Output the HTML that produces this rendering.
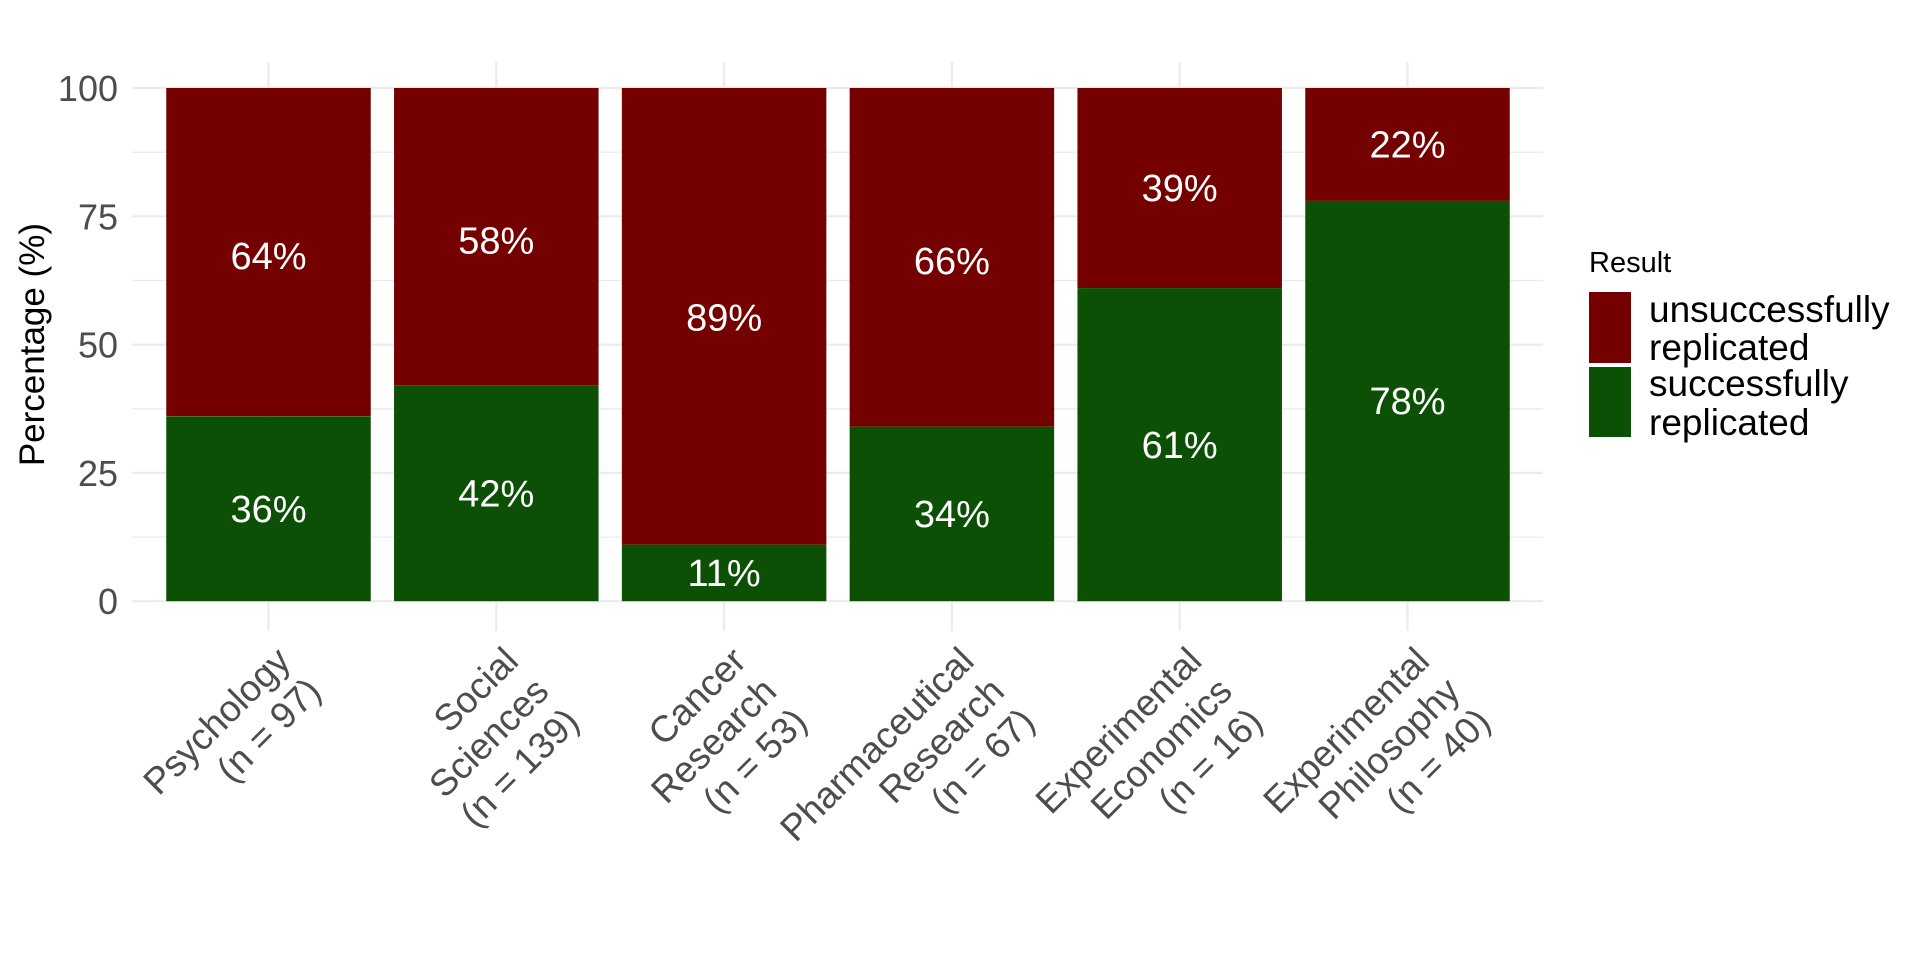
<!DOCTYPE html>
<html><head><meta charset="utf-8"><style>html,body{margin:0;padding:0;background:#fff}svg{display:block}</style></head>
<body>
<svg width="1920" height="960" xmlns="http://www.w3.org/2000/svg" font-family="Liberation Sans, Arial, sans-serif">
<rect width="1920" height="960" fill="#fff"/>
<g stroke="#ebebeb" stroke-width="1.3">
<line x1="132" x2="1543" y1="152.2" y2="152.2"/>
<line x1="132" x2="1543" y1="280.5" y2="280.5"/>
<line x1="132" x2="1543" y1="408.8" y2="408.8"/>
<line x1="132" x2="1543" y1="537.1" y2="537.1"/>
</g>
<g stroke="#ebebeb" stroke-width="2.2">
<line x1="132" x2="1543" y1="88" y2="88"/>
<line x1="132" x2="1543" y1="216.3" y2="216.3"/>
<line x1="132" x2="1543" y1="344.6" y2="344.6"/>
<line x1="132" x2="1543" y1="472.9" y2="472.9"/>
<line x1="132" x2="1543" y1="601.2" y2="601.2"/>
<line x1="268.5" x2="268.5" y1="62" y2="631"/>
<line x1="496.3" x2="496.3" y1="62" y2="631"/>
<line x1="724.1" x2="724.1" y1="62" y2="631"/>
<line x1="951.9" x2="951.9" y1="62" y2="631"/>
<line x1="1179.7" x2="1179.7" y1="62" y2="631"/>
<line x1="1407.5" x2="1407.5" y1="62" y2="631"/>
</g>
<g>
<rect x="166.25" width="204.5" y="88" height="328.2" fill="#750000"/>
<rect x="166.25" width="204.5" y="416.4" height="184.8" fill="#0b5004"/>
<rect x="394.05" width="204.5" y="88" height="297.6" fill="#750000"/>
<rect x="394.05" width="204.5" y="385.7" height="215.5" fill="#0b5004"/>
<rect x="621.85" width="204.5" y="88" height="456.7" fill="#750000"/>
<rect x="621.85" width="204.5" y="544.7" height="56.5" fill="#0b5004"/>
<rect x="849.65" width="204.5" y="88" height="338.7" fill="#750000"/>
<rect x="849.65" width="204.5" y="426.7" height="174.5" fill="#0b5004"/>
<rect x="1077.45" width="204.5" y="88" height="200.1" fill="#750000"/>
<rect x="1077.45" width="204.5" y="288.1" height="313.1" fill="#0b5004"/>
<rect x="1305.25" width="204.5" y="88" height="112.9" fill="#750000"/>
<rect x="1305.25" width="204.5" y="200.9" height="400.3" fill="#0b5004"/>
</g>
<g fill="#fff" font-size="38" text-anchor="middle">
<text x="268.5" y="269">64%</text><text x="268.5" y="522">36%</text>
<text x="496.3" y="253.6">58%</text><text x="496.3" y="506.5">42%</text>
<text x="724.1" y="330.4">89%</text><text x="724.1" y="586.1">11%</text>
<text x="951.9" y="274.1">66%</text><text x="951.9" y="526.9">34%</text>
<text x="1179.7" y="201">39%</text><text x="1179.7" y="457.8">61%</text>
<text x="1407.5" y="157.6">22%</text><text x="1407.5" y="414.1">78%</text>
</g>
<g fill="#4d4d4d" font-size="36" text-anchor="end">
<text x="118" y="101">100</text>
<text x="118" y="229.3">75</text>
<text x="118" y="357.6">50</text>
<text x="118" y="485.9">25</text>
<text x="118" y="614.2">0</text>
</g>
<text transform="translate(44,344.6) rotate(-90)" font-size="35" text-anchor="middle" fill="#000">Percentage (%)</text>
<g fill="#4d4d4d" font-size="37" text-anchor="end">
<text transform="translate(292.5,663) rotate(-45)"><tspan x="0" y="0">Psychology</tspan><tspan x="0" y="43">(n = 97)</tspan></text>
<text transform="translate(520.3,663) rotate(-45)"><tspan x="0" y="0">Social</tspan><tspan x="0" y="43">Sciences</tspan><tspan x="0" y="86">(n = 139)</tspan></text>
<text transform="translate(748.1,663) rotate(-45)"><tspan x="0" y="0">Cancer</tspan><tspan x="0" y="43">Research</tspan><tspan x="0" y="86">(n = 53)</tspan></text>
<text transform="translate(975.9,663) rotate(-45)"><tspan x="0" y="0">Pharmaceutical</tspan><tspan x="0" y="43">Research</tspan><tspan x="0" y="86">(n = 67)</tspan></text>
<text transform="translate(1203.7,663) rotate(-45)"><tspan x="0" y="0">Experimental</tspan><tspan x="0" y="43">Economics</tspan><tspan x="0" y="86">(n = 16)</tspan></text>
<text transform="translate(1431.5,663) rotate(-45)"><tspan x="0" y="0">Experimental</tspan><tspan x="0" y="43">Philosophy</tspan><tspan x="0" y="86">(n = 40)</tspan></text>
</g>
<text x="1589" y="272" font-size="29" fill="#000">Result</text>
<rect x="1589" y="292" width="42" height="71" fill="#750000"/>
<rect x="1589" y="367" width="42" height="70" fill="#0b5004"/>
<g font-size="37" fill="#000">
<text x="1649" y="322">unsuccessfully</text>
<text x="1649" y="360">replicated</text>
<text x="1649" y="396">successfully</text>
<text x="1649" y="435">replicated</text>
</g>
</svg>
</body></html>
